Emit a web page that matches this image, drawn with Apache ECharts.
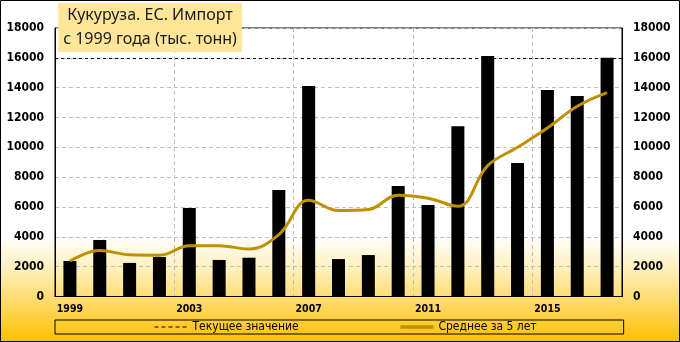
<!DOCTYPE html>
<html>
<head>
<meta charset="utf-8">
<script src="https://cdn.jsdelivr.net/npm/echarts@6/dist/echarts.min.js"></script>
<style>
  html, body { margin: 0; padding: 0; }
  #chart { width: 680px; height: 342px; }
</style>
</head>
<body>
<div id="chart"></div>
<script>
// Yearly maize imports into the EU, thousand tonnes
const years = ['1999', '2000', '2001', '2002', '2003', '2004', '2005', '2006', '2007', '2008',
               '2009', '2010', '2011', '2012', '2013', '2014', '2015', '2016', '2017'];
const imports = [2380, 3790, 2250, 2650, 5930, 2450, 2600, 7140, 14110, 2510,
                 2780, 7400, 6130, 11420, 16120, 8950, 13840, 13440, 16000];
// Five-year average
const avg5 = [2380, 3080, 2800, 2770, 3400, 3410, 3180, 4150, 6450, 5760,
              5830, 6790, 6590, 6050, 8770, 10000, 11290, 12750, 13670];
// Latest value, drawn as a reference level
const currentValue = 16000;
// Value axis scale
const yMin = 0, yMax = 18000, yStep = 2000;

const titleLines = ['Кукуруза. ЕС. Импорт', 'с 1999 года (тыс. тонн)'];
const legendNames = ['Текущее значение', 'Среднее за 5 лет'];

const chart = echarts.init(document.getElementById('chart'), null, { renderer: 'canvas' });

const numFont = 'DejaVu Sans Condensed';
const gridDash = { color: '#BFBFBF', type: [4, 3], width: 1 };
const avgColor = '#BF9000';
const plainNumber = v => String(v);

chart.setOption({
  animation: false,
  backgroundColor: new echarts.graphic.LinearGradient(0, 0, 0, 1, [
    { offset: 0, color: '#FFFFFF' },
    { offset: 0.69, color: '#FFFFFF' },
    { offset: 0.79, color: '#FFEFB8' },
    { offset: 0.9, color: '#FFD65A' },
    { offset: 1, color: '#FFC000' }
  ]),
  graphic: [{
    type: 'rect',
    silent: true,
    shape: { x: 0.5, y: 0.5, width: 679, height: 341 },
    style: { fill: 'none', stroke: '#000', lineWidth: 1 },
    z: 100
  }],
  title: {
    text: titleLines.join('\n'),
    left: 145,
    top: 3,
    textAlign: 'center',
    backgroundColor: '#FFE699',
    padding: [0, 5, 0, 5],
    textStyle: {
      fontFamily: 'Noto Sans',
      fontSize: 16,
      fontWeight: 'normal',
      color: '#1A1A1A',
      lineHeight: 24.5
    }
  },
  legend: {
    left: 55,
    top: 320,
    padding: [1, 87, 1, 99],
    borderColor: '#000',
    borderWidth: 1,
    itemWidth: 33,
    itemHeight: 10,
    itemGap: 100,
    itemStyle: { opacity: 0 },
    data: [
      { name: legendNames[0], lineStyle: { color: '#000', width: 1, type: [4, 3] } },
      { name: legendNames[1], lineStyle: { color: avgColor, width: 3.5, type: 'solid' } }
    ],
    textStyle: { fontFamily: numFont, fontSize: 12, color: '#000', padding: [0, 0, 0, 0] }
  },
  grid: {
    left: 55,
    right: 58,
    top: 28,
    bottom: 45.5,
    show: true,
    borderColor: '#000',
    borderWidth: 1,
    backgroundColor: 'transparent',
    containLabel: false
  },
  xAxis: {
    type: 'category',
    data: years,
    boundaryGap: true,
    axisLine: { show: true, lineStyle: { color: '#000', width: 1 } },
    axisTick: { show: false, interval: 3 },
    axisLabel: {
      interval: 3,
      margin: 7,
      fontFamily: numFont,
      fontWeight: 'bold',
      fontSize: 10.5,
      color: '#000'
    },
    splitLine: { show: true, interval: 3, lineStyle: gridDash }
  },
  yAxis: [{
    type: 'value',
    position: 'left',
    min: yMin, max: yMax, interval: yStep,
    axisLine: { show: true, lineStyle: { color: '#000' } },
    axisTick: { show: false },
    axisLabel: { margin: 11, formatter: plainNumber, fontFamily: numFont, fontWeight: 'bold', fontSize: 12, color: '#000' },
    splitLine: { show: true, lineStyle: gridDash }
  }, {
    type: 'value',
    position: 'right',
    min: yMin, max: yMax, interval: yStep,
    axisLine: { show: true, lineStyle: { color: '#000' } },
    axisTick: { show: false },
    axisLabel: { margin: 11, formatter: plainNumber, fontFamily: numFont, fontWeight: 'bold', fontSize: 12, color: '#000' },
    splitLine: { show: false }
  }],
  series: [{
    name: 'Импорт',
    type: 'bar',
    data: imports,
    barWidth: 13,
    itemStyle: { color: '#000' },
    z: 2
  }, {
    name: legendNames[0],
    type: 'line',
    data: [],
    symbol: 'none',
    lineStyle: { color: '#000', width: 1, type: [3, 3] },
    itemStyle: { color: '#000' },
    markLine: {
      silent: true,
      symbol: 'none',
      label: { show: false },
      lineStyle: { color: '#000', width: 1, type: [3, 3] },
      data: [{ yAxis: currentValue }]
    },
    z: 3
  }, {
    name: legendNames[1],
    type: 'line',
    data: avg5,
    smooth: 0.4,
    symbol: 'none',
    lineStyle: { color: avgColor, width: 3 },
    itemStyle: { color: avgColor },
    z: 4
  }]
});
</script>
</body>
</html>
